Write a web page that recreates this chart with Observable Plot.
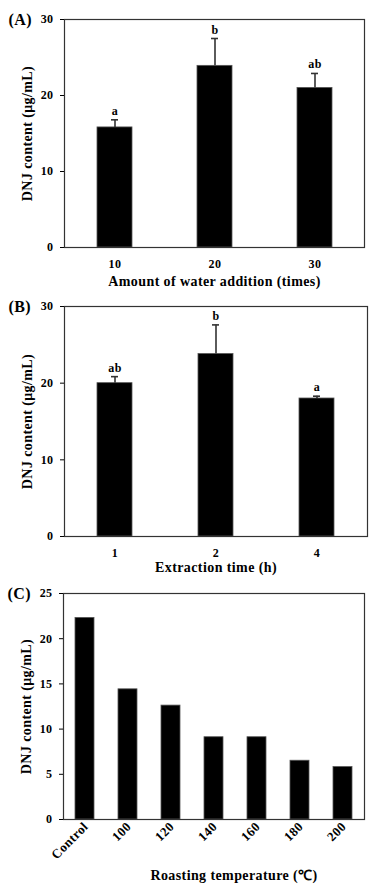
<!DOCTYPE html>
<html>
<head>
<meta charset="utf-8">
<script src="https://cdn.jsdelivr.net/npm/d3@7"></script>
<script src="https://cdn.jsdelivr.net/npm/@observablehq/plot@0.6"></script>
<style>
  html, body { margin: 0; padding: 0; background: #fff; }
  #chart { width: 374px; }
  #chart svg { display: block; }
  #chart svg text { letter-spacing: 0.4px; }
</style>
</head>
<body>
<div id="chart"></div>
<script>
// ---- Data ----
const waterCats = ["10", "20", "30"];
const waterValues = [15.8, 23.9, 21.0];
const waterErrors = [1.0, 3.6, 1.9];
const waterLetters = ["a", "b", "ab"];

const timeCats = ["1", "2", "4"];
const timeValues = [20.0, 23.8, 18.0];
const timeErrors = [0.85, 3.8, 0.3];
const timeLetters = ["ab", "b", "a"];

const roastCats = ["Control", "100", "120", "140", "160", "180", "200"];
const roastValues = [22.3, 14.4, 12.6, 9.1, 9.1, 6.5, 5.8];

const yTicks30 = [0, 10, 20, 30];
const yTicks25 = [0, 5, 10, 15, 20, 25];

const yLabel = "DNJ content (μg/mL)";

const FONT = "'Liberation Serif', 'Times New Roman', serif";

function panel(opts) {
  const rows = opts.cats.map((c, i) => ({
    cat: c,
    value: opts.values[i],
    err: opts.errors ? opts.errors[i] : null,
    letter: opts.letters ? opts.letters[i] : null
  }));
  const marks = [
    Plot.barY(rows, {x: "cat", y: "value", fill: "#000", stroke: "#555", strokeWidth: 0.8}),
  ];
  if (opts.errors) {
    marks.push(
      Plot.ruleX(rows, {x: "cat", y1: "value", y2: d => d.value + d.err, stroke: "#333", strokeWidth: 1.6}),
      Plot.tickY(rows, {x: "cat", y: d => d.value + d.err, stroke: "#333", strokeWidth: 1.6, insetLeft: opts.capInset, insetRight: opts.capInset}),
      Plot.text(rows, {x: "cat", y: d => d.value + d.err, text: "letter", dy: -5, lineAnchor: "bottom", fontSize: 12, fontWeight: "bold"})
    );
  }
  marks.push(
    Plot.frame({stroke: "#333", strokeWidth: 1.2}),
    Plot.axisY({ticks: opts.yTicks, tickSize: 4, tickPadding: 7, fontSize: 12, fontWeight: "bold", label: null}),
    opts.rotate
      ? Plot.axisX({tickSize: 0, tickPadding: 5, tickRotate: -45, dx: 1, fontSize: 13, fontWeight: "bold", label: null})
      : Plot.axisX({tickSize: 0, tickPadding: 12, fontSize: 12, fontWeight: "bold", label: null}),
    Plot.text([yLabel], {frameAnchor: "left", rotate: -90, dx: -37, textAnchor: "middle", lineAnchor: "middle", fontSize: 14, fontWeight: "bold"}),
    Plot.text([opts.xLabel], {frameAnchor: "bottom", dy: opts.xLabelDy, dx: opts.xLabelDx || 0, textAnchor: "middle", lineAnchor: "middle", fontSize: 14, fontWeight: "bold"}),
    Plot.text([opts.tag], {frameAnchor: "top-left", dx: -56, dy: 0, textAnchor: "start", lineAnchor: "middle", fontSize: 16, fontWeight: "bold"})
  );
  return Plot.plot({
    width: 374,
    height: opts.height,
    marginTop: opts.mt,
    marginBottom: opts.mb,
    marginLeft: opts.ml,
    marginRight: opts.mr,
    style: {fontFamily: FONT, background: "#fff", color: "#000", overflow: "visible"},
    x: {type: "band", domain: opts.cats, paddingInner: opts.pi, paddingOuter: opts.pi / 2, label: null},
    y: {domain: opts.yDomain, label: null},
    marks
  });
}

const chart = document.getElementById("chart");
chart.append(panel({
  cats: waterCats, values: waterValues, errors: waterErrors, letters: waterLetters,
  yTicks: yTicks30, yDomain: [0, 30], tag: "(A)", xLabel: "Amount of water addition (times)",
  height: 290, mt: 19, mb: 43, ml: 64, mr: 10, pi: 0.65, capInset: 14, xLabelDy: 34
}));
chart.append(panel({
  cats: timeCats, values: timeValues, errors: timeErrors, letters: timeLetters,
  yTicks: yTicks30, yDomain: [0, 30], tag: "(B)", xLabel: "Extraction time (h)",
  height: 285, mt: 16, mb: 39, ml: 64, mr: 7, pi: 0.65, capInset: 14, xLabelDy: 31.5
}));
chart.append(panel({
  cats: roastCats, values: roastValues,
  yTicks: yTicks25, yDomain: [0, 25], tag: "(C)", xLabel: "Roasting temperature (℃)",
  height: 312, mt: 18, mb: 68, ml: 63, mr: 10, pi: 0.56, rotate: true, xLabelDy: 56, xLabelDx: 20
}));
</script>
</body>
</html>
